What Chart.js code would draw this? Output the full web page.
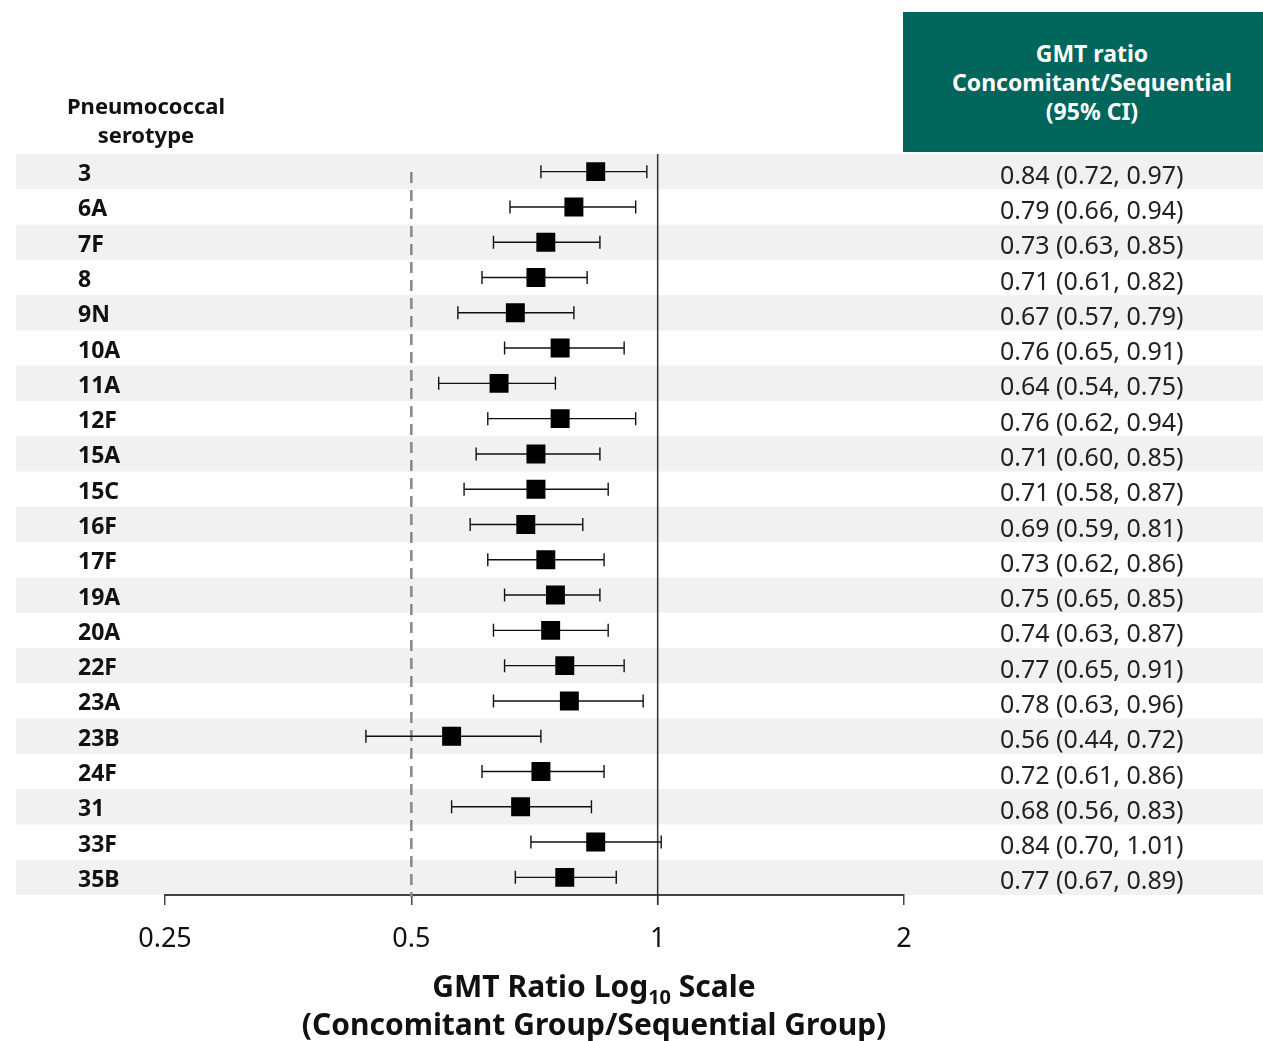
<!DOCTYPE html>
<html>
<head>
<meta charset="utf-8">
<script src="https://cdn.jsdelivr.net/npm/chart.js@4.4.1/dist/chart.umd.min.js"></script>
<style>
  body { margin: 0; background: #fff; font-family: "Noto Sans", sans-serif; }
  #wrap { position: relative; width: 1263px; height: 1041px; }
  #wrap canvas { position: absolute; left: 0; top: 0; }
  .hdr { position: absolute; font-weight: bold; text-align: center; line-height: 29px; }
  #serHead { left: 39px; top: 91px; width: 214px; color: #111; font-size: 22px; }
  #gmtHead { left: 903px; top: 12px; width: 360px; height: 140px; background: #00655a; color: #fff;
             box-sizing: border-box; padding-top: 27px; padding-left: 18px; font-size: 23px; }
  #xTitle { position: absolute; left: 200px; top: 967px; width: 788px; text-align: center;
            font-weight: bold; font-size: 30px; line-height: 38px; color: #111; }
  #xTitle sub { font-size: 20px; line-height: 0; vertical-align: -7px; }
</style>
</head>
<body>
<div id="wrap">
  <canvas id="forest"></canvas>
  <div class="hdr" id="serHead">Pneumococcal<br>serotype</div>
  <div class="hdr" id="gmtHead">GMT ratio<br>Concomitant/Sequential<br>(95% CI)</div>
  <div id="xTitle">GMT Ratio Log<sub>10</sub> Scale<br>(Concomitant Group/Sequential Group)</div>
</div>
<script>
// serotypes, top to bottom
var serotypes = ['3', '6A', '7F', '8', '9N', '10A', '11A', '12F', '15A', '15C', '16F',
  '17F', '19A', '20A', '22F', '23A', '23B', '24F', '31', '33F', '35B'];
// GMT ratio concomitant/sequential and 95% CI
var gmtRatio = [0.84, 0.79, 0.73, 0.71, 0.67, 0.76, 0.64, 0.76, 0.71, 0.71, 0.69,
  0.73, 0.75, 0.74, 0.77, 0.78, 0.56, 0.72, 0.68, 0.84, 0.77];
var ciLower = [0.72, 0.66, 0.63, 0.61, 0.57, 0.65, 0.54, 0.62, 0.60, 0.58, 0.59,
  0.62, 0.65, 0.63, 0.65, 0.63, 0.44, 0.61, 0.56, 0.70, 0.67];
var ciUpper = [0.97, 0.94, 0.85, 0.82, 0.79, 0.91, 0.75, 0.94, 0.85, 0.87, 0.81,
  0.86, 0.85, 0.87, 0.91, 0.96, 0.72, 0.86, 0.83, 1.01, 0.89];
var xTicks = [0.25, 0.5, 1, 2];

var ciLabels = gmtRatio.map(function (v, i) {
  return v.toFixed(2) + ' (' + ciLower[i].toFixed(2) + ', ' + ciUpper[i].toFixed(2) + ')';
});

// alternating grey row bands behind everything
var bandsPlugin = {
  id: 'bands',
  beforeDraw: function (chart) {
    var ctx = chart.ctx, y = chart.scales.y;
    var step = y.getPixelForValue(1) - y.getPixelForValue(0);
    ctx.save();
    ctx.fillStyle = '#f1f1f1';
    for (var i = 0; i < serotypes.length; i += 2) {
      var c = y.getPixelForValue(i);
      ctx.fillRect(16, c - step / 2, chart.width - 16, step);
    }
    ctx.restore();
  }
};

// reference lines and confidence interval whiskers
var whiskerPlugin = {
  id: 'whiskers',
  beforeDatasetsDraw: function (chart) {
    var ctx = chart.ctx, x = chart.scales.x, y = chart.scales.y, area = chart.chartArea;
    ctx.save();
    // dashed line at 0.5
    var xh = x.getPixelForValue(0.5);
    ctx.strokeStyle = '#888';
    ctx.lineWidth = 2.5;
    ctx.setLineDash([11, 7]);
    ctx.beginPath();
    ctx.moveTo(xh, area.top + 18);
    ctx.lineTo(xh, area.bottom + 2);
    ctx.stroke();
    ctx.setLineDash([]);
    // solid line at 1
    var x1 = x.getPixelForValue(1);
    ctx.strokeStyle = '#333';
    ctx.lineWidth = 1.5;
    ctx.beginPath();
    ctx.moveTo(x1, area.top);
    ctx.lineTo(x1, area.bottom + 10);
    ctx.stroke();
    // whiskers
    ctx.strokeStyle = '#111';
    ctx.lineWidth = 1.4;
    for (var i = 0; i < serotypes.length; i++) {
      var yc = y.getPixelForValue(i);
      var xl = x.getPixelForValue(ciLower[i]);
      var xu = x.getPixelForValue(ciUpper[i]);
      ctx.beginPath();
      ctx.moveTo(xl, yc); ctx.lineTo(xu, yc);
      ctx.moveTo(xl, yc - 6.5); ctx.lineTo(xl, yc + 6.5);
      ctx.moveTo(xu, yc - 6.5); ctx.lineTo(xu, yc + 6.5);
      ctx.stroke();
    }
    ctx.restore();
  }
};

var pts = gmtRatio.map(function (v, i) { return { x: v, y: serotypes[i] }; });

new Chart(document.getElementById('forest'), {
  type: 'scatter',
  data: {
    datasets: [{
      data: pts,
      pointStyle: 'rect',
      pointRadius: 13.4,
      pointHoverRadius: 13.4,
      backgroundColor: '#000',
      borderColor: '#000',
      borderWidth: 0
    }]
  },
  options: {
    responsive: true,
    maintainAspectRatio: false,
    animation: false,
    layout: { padding: { left: 78, right: 0, top: 154, bottom: 0 } },
    plugins: { legend: { display: false }, tooltip: { enabled: false } },
    scales: {
      x: {
        type: 'logarithmic',
        min: 0.25,
        max: 2,
        afterBuildTicks: function (scale) {
          scale.ticks = xTicks.map(function (v) { return { value: v }; });
        },
        afterFit: function (scale) { scale.height = 146; },
        ticks: {
          autoSkip: false,
          maxRotation: 0,
          padding: 18,
          color: '#111',
          font: { family: 'Noto Sans', size: 27 },
          callback: function (v) { return String(v); }
        },
        grid: { drawOnChartArea: false, drawTicks: true, tickLength: 10, color: '#444', lineWidth: 1.5 },
        border: { display: true, color: '#444', width: 2 }
      },
      y: {
        type: 'category',
        labels: serotypes,
        offset: true,
        position: 'left',
        afterFit: function (scale) { scale.width = 87; },
        ticks: {
          crossAlign: 'far',
          autoSkip: false,
          labelOffset: 3,
          color: '#111',
          font: { family: 'Noto Sans', size: 23, weight: 'bold' }
        },
        grid: { display: false, drawTicks: false },
        border: { display: false }
      },
      y2: {
        type: 'category',
        labels: ciLabels,
        offset: true,
        position: 'right',
        afterFit: function (scale) { scale.width = 359; },
        ticks: {
          crossAlign: 'center',
          autoSkip: false,
          padding: 96,
          labelOffset: 5,
          color: '#222',
          font: { family: 'Noto Sans', size: 25 }
        },
        grid: { display: false, drawTicks: false },
        border: { display: false }
      }
    }
  },
  plugins: [bandsPlugin, whiskerPlugin]
});
</script>
</body>
</html>
